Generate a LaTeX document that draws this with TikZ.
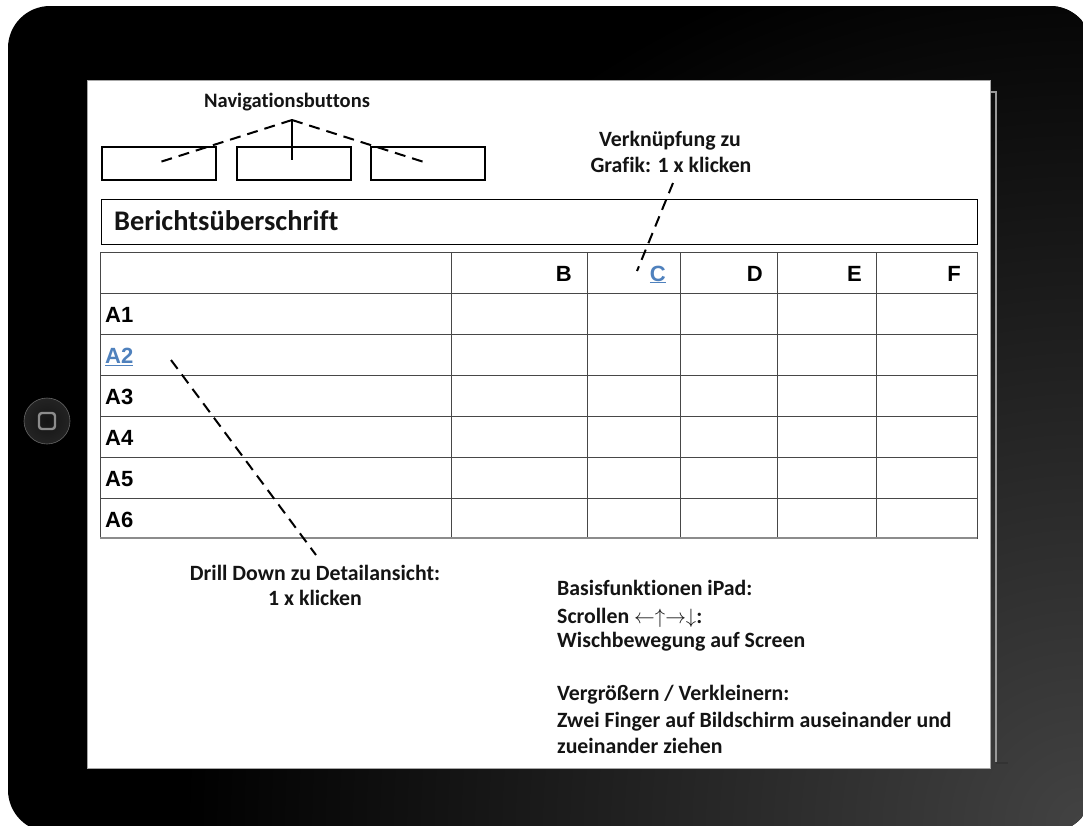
\documentclass[tikz,border=0pt]{standalone}
\usepackage{fontspec}
\setmainfont[Ligatures={NoCommon}]{Carlito}
\newfontfamily\arialbold{Liberation Sans Bold}
\definecolor{linkblue}{HTML}{4F81BD}
\pgfdeclareradialshading{homebtn}{\pgfpoint{0bp}{0bp}}{color(0bp)=(black!92); color(30bp)=(black!85); color(50bp)=(black!62)}
\begin{document}
\begin{tikzpicture}[x=1pt,y=-1pt,
  note/.style={font=\bfseries\fontsize{21.8}{26}\selectfont, inner sep=0pt, text=black!92},
  cell/.style={font=\arialbold\fontsize{22}{24}\selectfont, inner sep=0pt},
  navbox/.style={draw=black, line width=2.8pt, minimum width=114pt, minimum height=33pt, inner sep=0pt, anchor=north west},
  guide/.style={line width=2pt, dash pattern=on 11pt off 7pt},
  gridline/.style={draw=black!72, line width=1pt},
  ]
\useasboundingbox (0,0) rectangle (1083,825);
\fill[white] (0,0) rectangle (1083,825);
% iPad frame
\begin{scope}
  \clip[rounded corners=42pt] (8,6) rectangle (1092,832);
  \fill[black] (0,0) rectangle (1100,840);
  \shade[inner color=black!74, outer color=black] (1083,825) circle (900pt);
\end{scope}
% home button
\node[circle, minimum size=46pt, inner sep=0pt, shading=homebtn, draw=black!60, line width=0.6pt] (home) at (47,421) {};
\node[draw=black!45, line width=2.4pt, rounded corners=3pt, minimum size=16pt, inner sep=0pt] (homesq) at (home.center) {};
% screen
\node[draw=black!35, line width=0.8pt, fill=white, minimum width=903pt, minimum height=688pt, inner sep=0pt, anchor=north west] (screen) at (87,80) {};
\draw[black!40, line width=1.5pt] (991,92) -- (996,92) -- (996,762);
\draw[black!80, line width=2pt] (996,763) -- (1008,763);
% navigation buttons
\node[navbox] (nb1) at (100.5,145.5) {};
\node[navbox] (nb2) at (235.5,145.5) {};
\node[navbox] (nb3) at (369.5,145.5) {};
\node[note, font=\bfseries\fontsize{20.5}{26}\selectfont, anchor=base] (navlabel) at (287,107) {Navigationsbuttons};
\coordinate (apex) at (292,120);
\coordinate (n1end) at (157,163);
\coordinate (n2end) at (292,160);
\coordinate (n3end) at (427,163);
\draw[guide] (apex) -- (n1end);
\draw[line width=2pt] (apex) -- (n2end);
\draw[guide] (apex) -- (n3end);
% title box
\node[draw=black, line width=1.8pt, minimum width=876pt, minimum height=45pt, inner sep=0pt, anchor=north west] (titlebox) at (100.5,198.5) {};
\node[font=\bfseries\fontsize{28.4}{30}\selectfont, inner sep=0pt, anchor=base west, text=black!92] (titletext) at (114,230) {Berichtsüberschrift};
% table grid
\draw[gridline] (100,252) rectangle (977,538);
\foreach \x in {451,587,680,777,876} \draw[gridline] (\x,252) -- (\x,538);
\foreach \y in {293,334,375,416,457,498} \draw[gridline] (100,\y) -- (977,\y);
\draw[black!45, line width=2pt] (100,538) -- (977,538);
% header labels
\node[cell, anchor=base east] (hB) at (572,281) {B};
\node[cell, anchor=base east, text=linkblue] (hC) at (666,281) {\underline{C}};
\node[cell, anchor=base east] (hD) at (763,281) {D};
\node[cell, anchor=base east] (hE) at (862,281) {E};
\node[cell, anchor=base east] (hF) at (961,281) {F};
% row labels
\node[cell, anchor=base west] (rA1) at (105,322.5) {A1};
\node[cell, anchor=base west, text=linkblue] (rA2) at (105,363.5) {\underline{A2}};
\node[cell, anchor=base west] (rA3) at (105,404.5) {A3};
\node[cell, anchor=base west] (rA4) at (105,445.5) {A4};
\node[cell, anchor=base west] (rA5) at (105,486.5) {A5};
\node[cell, anchor=base west] (rA6) at (105,527.5) {A6};
% Verknuepfung annotation
\node[note, anchor=base] (vk1) at (670,146) {Verknüpfung zu};
\node[note, anchor=base] (vk2) at (671,172) {Grafik: 1 x klicken};
\coordinate (vkTop) at (673,183);
\coordinate (vkBot) at (637,271);
\draw[guide] (vkTop) -- (vkBot);
% drill down annotation
\node[note, anchor=base] (dd1) at (315,580) {Drill Down zu Detailansicht:};
\node[note, anchor=base] (dd2) at (315,605) {1 x klicken};
\coordinate (ddTop) at (171,360);
\coordinate (ddBot) at (316,555);
\draw[guide] (ddTop) -- (ddBot);
% basic functions
\node[note, anchor=base west] (bf1) at (557,595) {Basisfunktionen iPad:};
\node[note, anchor=base west] (bf2) at (557,623) {Scrollen {\fontsize{20}{24}\selectfont$\leftarrow\uparrow\rightarrow\downarrow$}:};
\node[note, anchor=base west] (bf3) at (557,647) {Wischbewegung auf Screen};
\node[note, anchor=base west] (bf4) at (557,700) {Vergrößern / Verkleinern:};
\node[note, anchor=base west] (bf5) at (557,727) {Zwei Finger auf Bildschirm auseinander und};
\node[note, anchor=base west] (bf6) at (557,753) {zueinander ziehen};
\end{tikzpicture}
\end{document}
